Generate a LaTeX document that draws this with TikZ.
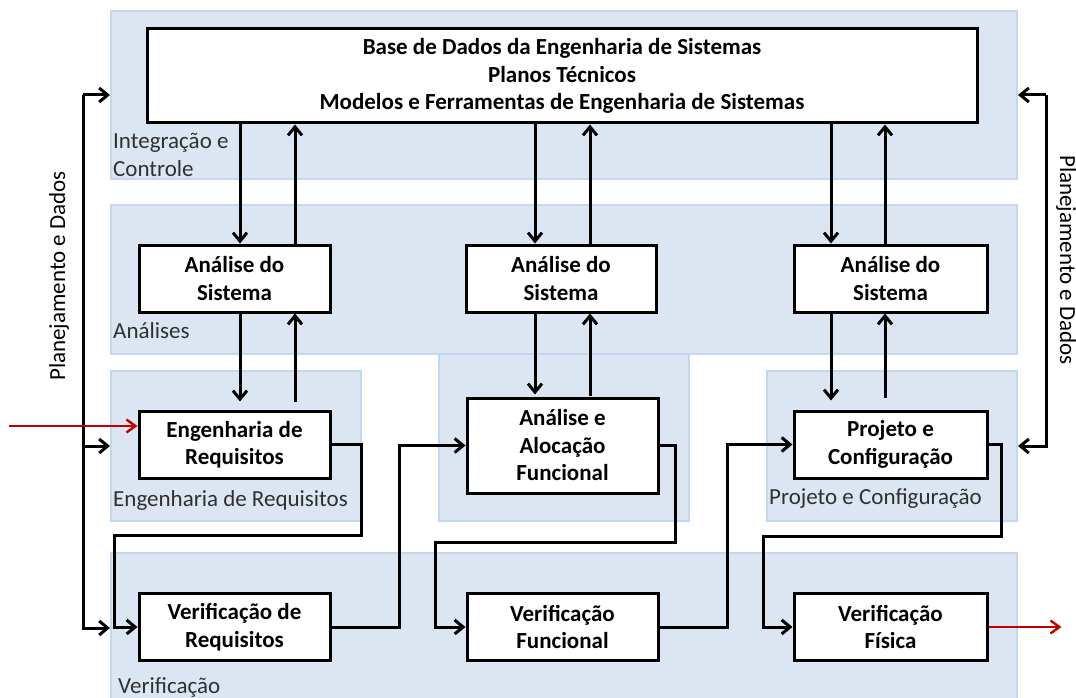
\documentclass[tikz,border=0pt]{standalone}
\usepackage{fontspec}
\setmainfont{Carlito}
\usepackage{xcolor}
\usetikzlibrary{arrows.meta, positioning}
\definecolor{regfill}{RGB}{220,230,242}
\definecolor{regline}{RGB}{198,214,238}
\definecolor{flowred}{RGB}{192,0,0}
\definecolor{labgray}{RGB}{48,48,48}

\begin{document}
\begin{tikzpicture}[x=1pt, y=-1pt,
    region/.style={fill=regfill, draw=regline, line width=2pt,
        anchor=north west, inner sep=0pt},
    box/.style={draw=black, fill=white, line width=3pt, align=center,
        inner sep=0pt, font=\bfseries\fontsize{23}{27.5}\selectfont,
        minimum width=191pt, minimum height=67pt},
    tag/.style={font=\fontsize{23}{28}\selectfont, text=labgray,
        anchor=base west, inner sep=0pt, align=left},
    flow/.style={line width=3pt, -{Straight Barb[length=8.5pt, width=14pt]}},
    redflow/.style={line width=2.4pt, draw=flowred,
        -{Straight Barb[length=9pt, width=13pt]}}]
    \useasboundingbox (0,0) rectangle (1076,698);

    % regioes de fundo
    \node[region, minimum width=906pt, minimum height=168pt] (ric) at (110,10) {};
    \node[region, minimum width=906pt, minimum height=149pt] (ran) at (110,204) {};
    \node[region, minimum width=250pt, minimum height=167pt] (raf) at (438,353) {};
    \node[region, minimum width=250pt, minimum height=150pt] (rer) at (110,370) {};
    \node[region, minimum width=250pt, minimum height=150pt] (rpc) at (766,370) {};
    \node[region, minimum width=906pt, minimum height=150pt] (rvr) at (110,552) {};

    \node[tag] (tic) at (113,176) {Integração e\\Controle};
    \node[tag] (tan) at (113,338) {Análises};
    \node[tag] (ter) at (113,506) {Engenharia de Requisitos};
    \node[tag] (tpc) at (769,504) {Projeto e Configuração};
    \node[tag] (tvr) at (118,693) {Verificação};

    % blocos
    \node[box, minimum width=830pt, minimum height=94pt] (db) at (562,76)
        {Base de Dados da Engenharia de Sistemas\\Planos Técnicos\\Modelos e Ferramentas de Engenharia de Sistemas};
    \node[box] (as1) at (234.5,278.5) {Análise do\\Sistema};
    \node[box, minimum width=190pt] (as2) at (561,278.5) {Análise do\\Sistema};
    \node[box, minimum width=193pt] (as3) at (890.5,278.5) {Análise do\\Sistema};
    \node[box] (er) at (234.5,444.5) {Engenharia de\\Requisitos};
    \node[box, minimum height=95pt] (aaf) at (562.5,445.5) {Análise e\\Alocação\\Funcional};
    \node[box, minimum width=193pt] (pc) at (890.5,444.5) {Projeto e\\Configuração};
    \node[box] (vr) at (234.5,627) {Verificação de\\Requisitos};
    \node[box] (vf) at (562.5,627) {Verificação\\Funcional};
    \node[box, minimum width=193pt] (vfs) at (890.5,627) {Verificação\\Física};

    \node[font=\fontsize{23}{28}\selectfont, rotate=90, anchor=base, inner sep=0pt]
        (pdl) at (65,276) {Planejamento e Dados};
    \node[font=\fontsize{23}{28}\selectfont, rotate=-90, anchor=base, inner sep=0pt]
        (pdr) at (1060,260) {Planejamento e Dados};

    % setas verticais
    \coordinate (dn1) at (240,0);
    \coordinate (up1) at (295,0);
    \coordinate (dn2) at (535,0);
    \coordinate (up2) at (590,0);
    \coordinate (dn3) at (831,0);
    \coordinate (up3) at (885,0);

    \draw[flow] (dn1 |- db.south) -- (dn1 |- as1.north);
    \draw[flow] (up1 |- as1.north) -- (up1 |- db.south);
    \draw[flow, shorten >=8pt] (dn1 |- as1.south) -- (dn1 |- er.north);
    \draw[flow, shorten <=8pt] (up1 |- er.north) -- (up1 |- as1.south);

    \draw[flow] (dn2 |- db.south) -- (dn2 |- as2.north);
    \draw[flow] (up2 |- as2.north) -- (up2 |- db.south);
    \draw[flow, shorten >=2pt] (dn2 |- as2.south) -- (dn2 |- aaf.north);
    \draw[flow, shorten <=1pt] (up2 |- aaf.north) -- (up2 |- as2.south);

    \draw[flow] (dn3 |- db.south) -- (dn3 |- as3.north);
    \draw[flow] (up3 |- as3.north) -- (up3 |- db.south);
    \draw[flow, shorten >=9pt] (dn3 |- as3.south) -- (dn3 |- pc.north);
    \draw[flow, shorten <=12pt] (up3 |- pc.north) -- (up3 |- as3.south);

    % planejamento e dados
    \coordinate (busl) at ([xshift=-27pt]ric.west);
    \draw[flow] (busl) -- (ric.west);
    \draw[flow] (busl) |- (rer.west);
    \draw[flow] (busl) |- (rvr.west);
    \coordinate (busr) at ([xshift=28pt]ric.east);
    \draw[flow] (busr) -- (ric.east);
    \draw[flow] (busr) |- (rpc.east);

    % fluxo entre blocos
    \draw[flow] (er.east) -- ++(30,0) -- ++(0,91) -| ([xshift=-23pt]vr.west) -- (vr.west);
    \draw[flow] (vr.east) -- ++(68,0) |- (aaf.west);
    \draw[flow] (aaf.east) -- ++(16,0) -- ++(0,96.5) -| ([xshift=-30pt]vf.west) -- (vf.west);
    \draw[flow] (vf.east) -- ++(68,0) |- (pc.west);
    \draw[flow] (pc.east) -- ++(13,0) -- ++(0,91.5) -| ([xshift=-29pt]vfs.west) -- (vfs.west);

    \coordinate (inred) at (9,426);
    \coordinate (outred) at ([xshift=73pt]vfs.east);
    \draw[redflow] (inred) -- (inred -| er.west);
    \draw[redflow] (vfs.east) -- (outred);
\end{tikzpicture}
\end{document}
